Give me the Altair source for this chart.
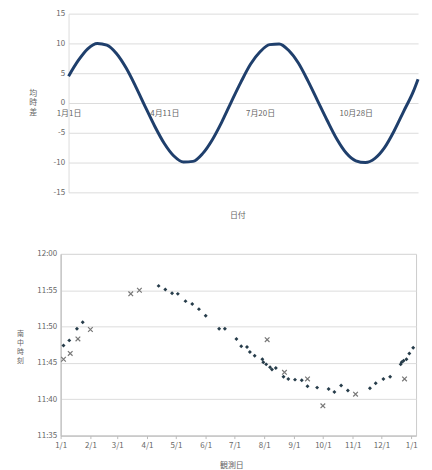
import json
import altair as alt
import pandas as pd

# ---------------- top panel: 均時差 (equation of time) ----------------
eot_day = [0, 10, 20, 30, 40, 50, 60, 70, 80, 90, 100, 110, 120, 130, 140, 150,
           160, 170, 180, 190, 200, 210, 220, 230, 240, 250, 260, 270, 280, 290,
           300, 310, 320, 330, 340, 350, 360, 365]
eot_val = [4.5, 7.1, 9.1, 10.0, 9.7, 8.3, 5.9, 2.8, -0.6, -3.9, -6.8, -8.9, -9.9,
           -9.8, -8.5, -6.2, -3.2, 0.2, 3.5, 6.5, 8.6, 9.8, 9.9, 8.8, 6.7, 3.7,
           0.4, -2.9, -6.0, -8.4, -9.7, -10.0, -9.3, -7.5, -4.7, -1.4, 1.9, 4.0]
top_tick_days = [0, 100, 200, 300]
top_tick_labels = ["1月1日", "4月11日", "7月20日", "10月28日"]
top_y_ticks = [-15, -10, -5, 0, 5, 10, 15]

# ---------------- bottom panel: 南中時刻 (culmination time) ----------------
dia_day = [3, 9, 17, 23, 102, 109, 116, 122, 130, 137, 144, 151, 165, 171,
           183, 188, 194, 197, 202, 210, 211, 214, 218, 220, 224, 232, 237,
           244, 251, 257, 267, 279, 285, 292, 299, 322, 328, 336, 343, 354,
           355, 357, 360, 363, 367]
dia_min = [47.4, 48.1, 49.7, 50.6, 55.6, 55.1, 54.6, 54.5, 53.5, 53.1, 52.4,
           51.5, 49.7, 49.7, 48.3, 47.3, 47.2, 46.5, 46.0, 45.5, 45.1, 44.8,
           44.4, 44.1, 44.3, 43.1, 42.8, 42.7, 42.6, 41.8, 41.6, 41.4, 41.0,
           41.9, 41.2, 41.5, 42.2, 42.8, 43.1, 44.8, 45.1, 45.3, 45.5, 46.3, 47.1]
x_day = [3, 10, 18, 31, 73, 82, 215, 233, 257, 273, 307, 358]
x_min = [45.5, 46.3, 48.3, 49.6, 54.5, 55.0, 48.2, 43.7, 42.8, 39.1, 40.7, 42.8]
month_days = [0, 31, 59, 90, 120, 151, 181, 212, 243, 273, 304, 334, 365]
month_labels = ["1/1", "2/1", "3/1", "4/1", "5/1", "6/1", "7/1", "8/1", "9/1",
                "10/1", "11/1", "12/1", "1/1"]
bottom_y_ticks = [35, 40, 45, 50, 55, 60]
bottom_y_labels = ["11:35", "11:40", "11:45", "11:50", "11:55", "12:00"]


def lookup_expr(values, labels):
    return "{}[indexof({}, datum.value)]".format(
        json.dumps(labels, ensure_ascii=False), json.dumps(values))


FONT = "Noto Sans CJK JP"
TXT = "#666666"
GRID = "#dcdcdc"

top_df = pd.DataFrame({"day": eot_day, "val": eot_val})

top = alt.Chart(top_df).mark_line(
    color="#1f3f6c", strokeWidth=3, interpolate="monotone"
).encode(
    x=alt.X("day:Q",
            scale=alt.Scale(domain=[0, 365], range=[8, 360], nice=False, zero=False),
            axis=alt.Axis(values=top_tick_days,
                          labelExpr=lookup_expr(top_tick_days, top_tick_labels),
                          offset=-90, domain=False, ticks=False, grid=False,
                          labelFlush=False, labelOverlap=False, labelPadding=7,
                          labelFontSize=8, labelColor=TXT, labelFont=FONT,
                          title="日付", titleX=178, titleY=113,
                          titleBaseline="middle", titleAlign="center",
                          titleFontSize=8, titleFontWeight="normal",
                          titleColor=TXT, titleFont=FONT)),
    y=alt.Y("val:Q",
            scale=alt.Scale(domain=[-15, 15], nice=False),
            axis=alt.Axis(values=top_y_ticks, labelExpr="'' + datum.value",
                          offset=-8, domainColor=GRID, ticks=False,
                          gridColor=GRID, labelPadding=4,
                          labelFontSize=8, labelColor=TXT, labelFont=FONT,
                          title=["均", "時", "差"], titleAngle=0,
                          titleX=-36, titleY=80, titleAlign="center",
                          titleBaseline="middle", titleLineHeight=10,
                          titleFontSize=8, titleFontWeight="normal",
                          titleColor=TXT, titleFont=FONT)),
).properties(width=360, height=180, view=alt.ViewBackground(stroke=None))

dia_df = pd.DataFrame({"day": dia_day, "min": dia_min})
x_df = pd.DataFrame({"day": x_day, "min": x_min})

xb = alt.X("day:Q",
           scale=alt.Scale(domain=[0, 370], nice=False, zero=False),
           axis=alt.Axis(values=month_days,
                         labelExpr=lookup_expr(month_days, month_labels),
                         grid=False, domainColor="#bbbbbb", tickColor="#bbbbbb",
                         tickSize=3, labelFlush=False, labelOverlap=False,
                         labelPadding=3, labelFontSize=8, labelColor=TXT,
                         labelFont=FONT, title="観測日", titleX=172, titleY=30,
                         titleBaseline="middle", titleAlign="center",
                         titleFontSize=8, titleFontWeight="normal",
                         titleColor=TXT, titleFont=FONT))
yb = alt.Y("min:Q",
           scale=alt.Scale(domain=[35, 60], nice=False, zero=False),
           axis=alt.Axis(values=bottom_y_ticks,
                         labelExpr=lookup_expr(bottom_y_ticks, bottom_y_labels),
                         domainColor="#bbbbbb", ticks=False, gridColor=GRID,
                         labelPadding=4, labelFontSize=8, labelColor=TXT,
                         labelFont=FONT,
                         title=["南", "中", "時", "刻"], titleAngle=0,
                         titleX=-41, titleY=80, titleAlign="center",
                         titleBaseline="middle", titleLineHeight=9,
                         titleFontSize=7, titleFontWeight="normal",
                         titleColor=TXT, titleFont=FONT))

dia = alt.Chart(dia_df).mark_point(
    shape="diamond", filled=True, size=16, color="#263c4a", opacity=1
).encode(x=xb, y=yb)

cross = alt.Chart(x_df).mark_point(
    shape="M-1,-1L1,1M-1,1L1,-1", filled=False, size=22, strokeWidth=1.2,
    color="#777777", opacity=1
).encode(x=xb, y=yb)

bottom = alt.layer(dia, cross).properties(
    width=358, height=183, view=alt.ViewBackground(stroke="#cccccc"))

chart = alt.vconcat(top, bottom, spacing=30).properties(
    padding={"left": 8, "top": 0, "right": 0, "bottom": 0},
    background="white")

chart.save("out.html", embed_options={"renderer": "svg", "actions": False})
